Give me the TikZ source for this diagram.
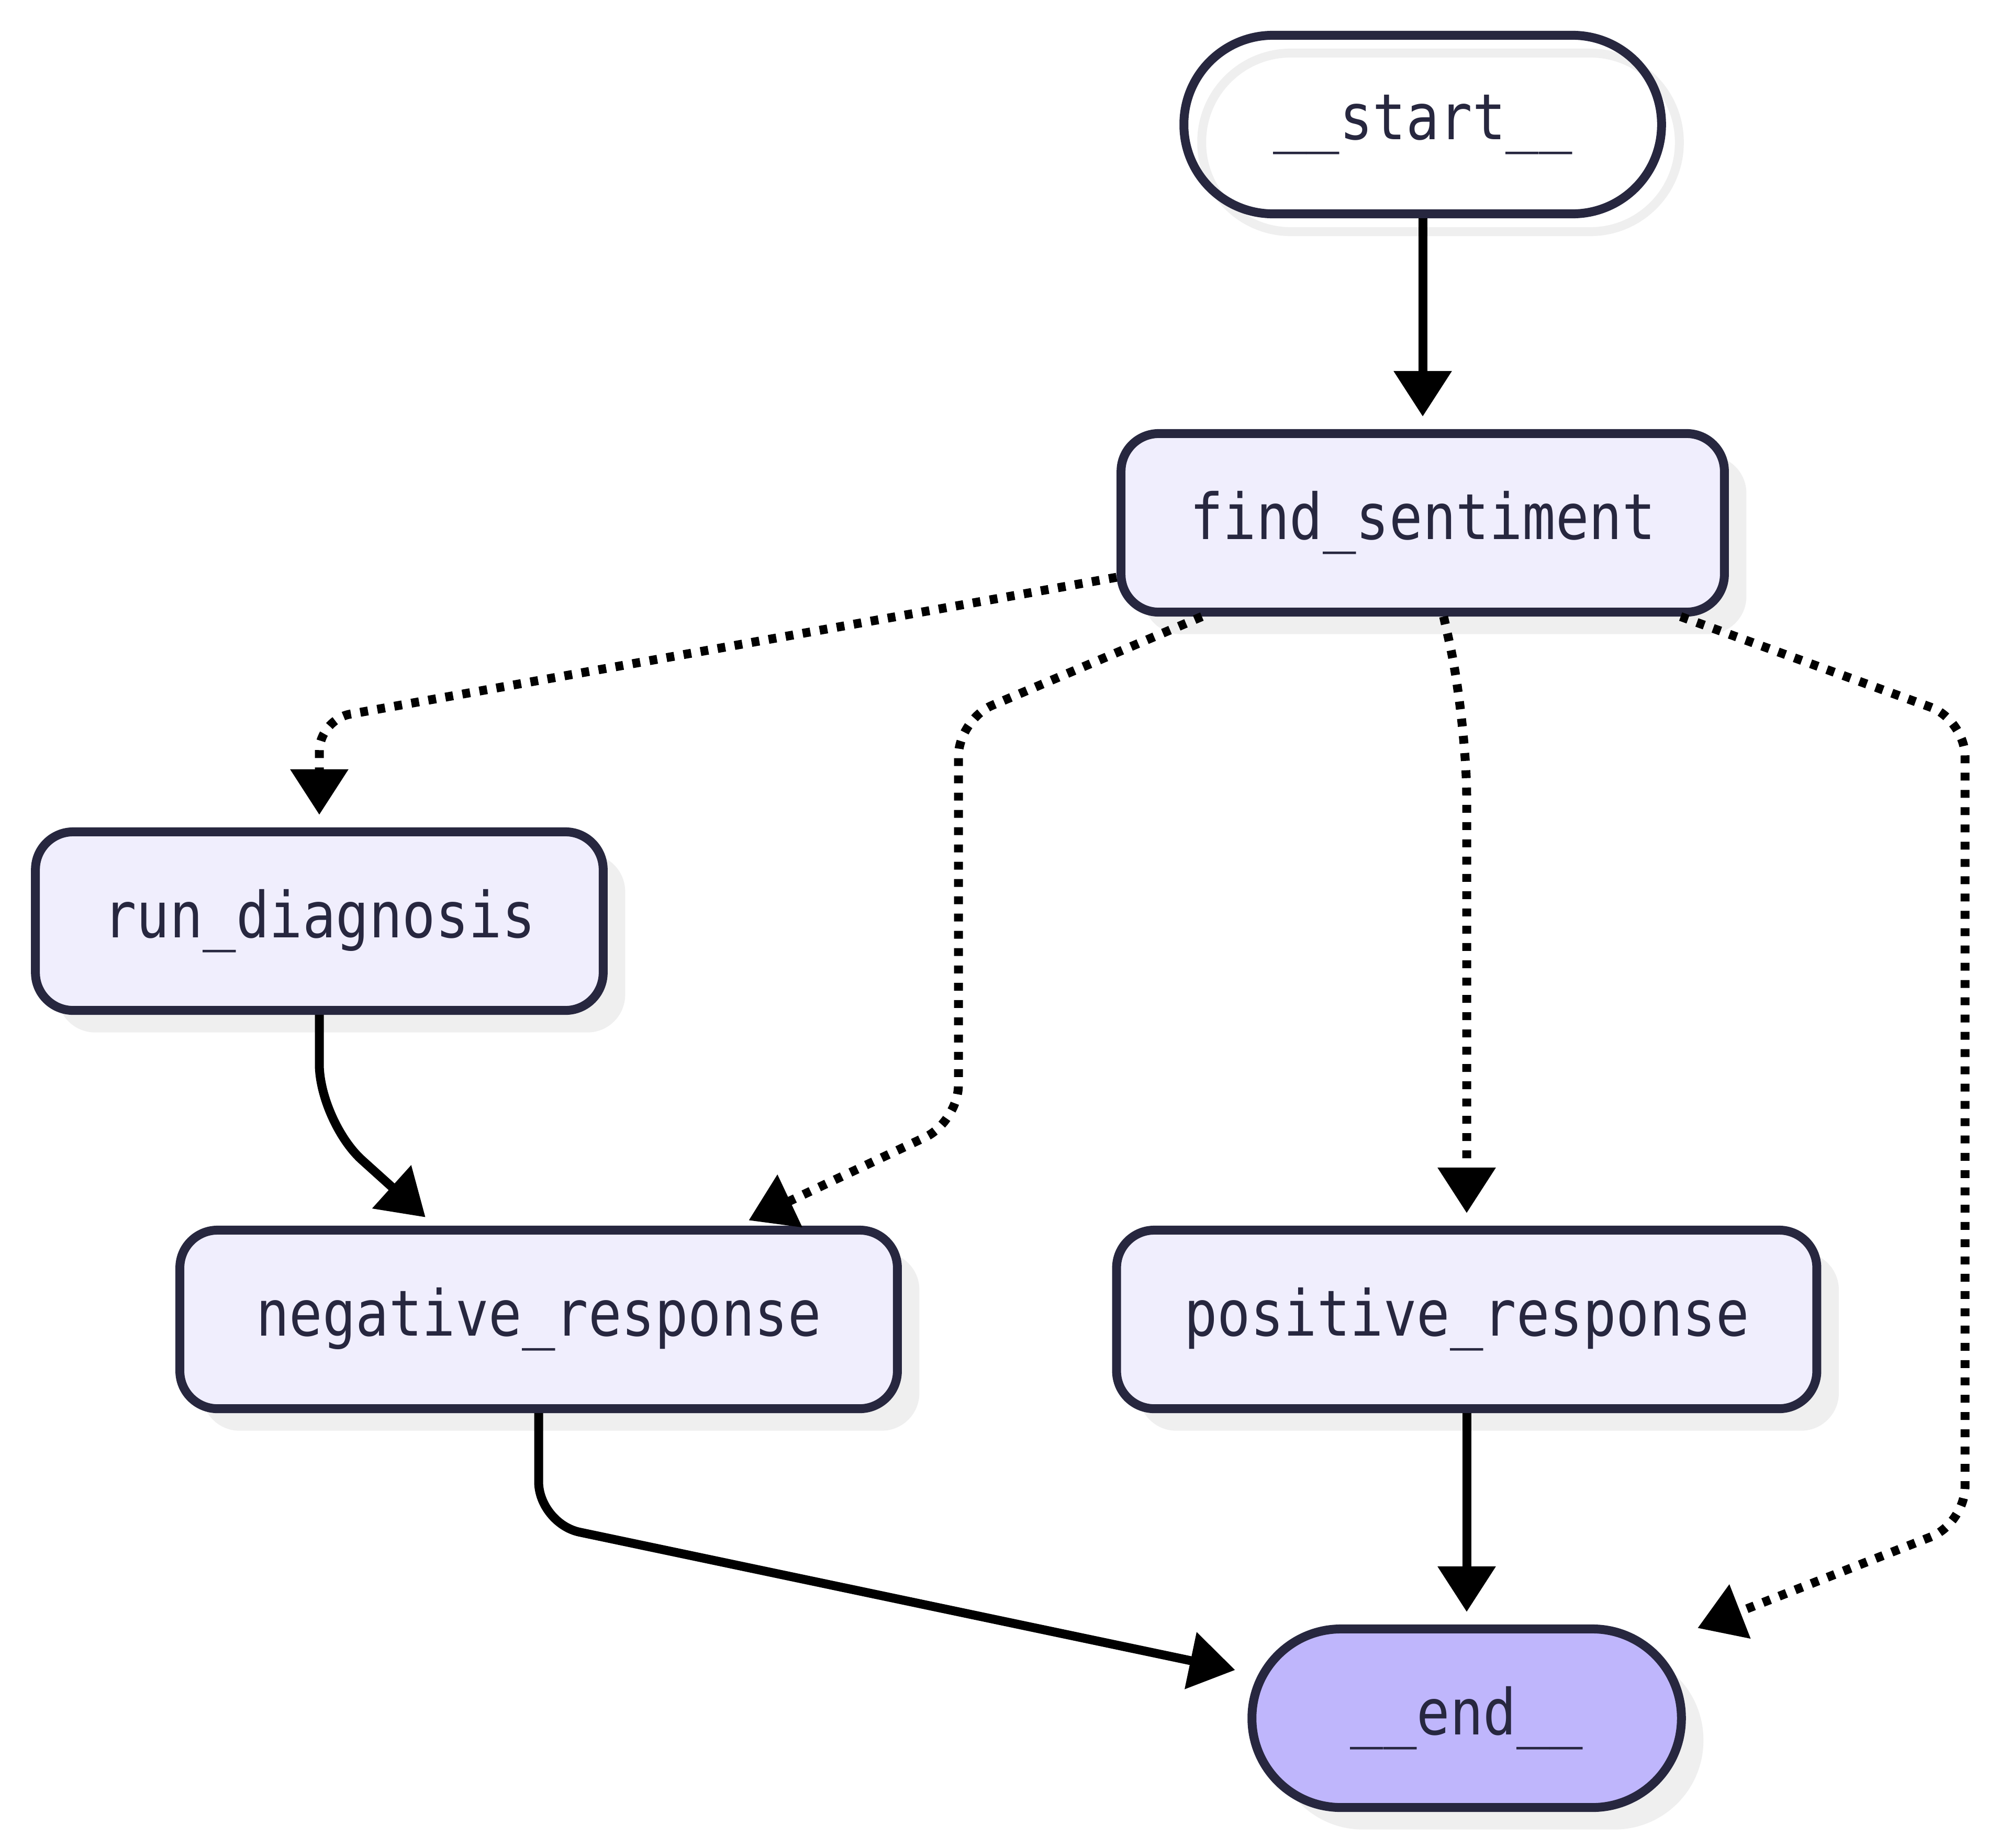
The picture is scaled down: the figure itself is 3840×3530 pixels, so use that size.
\documentclass[tikz,border=0pt]{standalone}
\usepackage{fontspec}
\newfontfamily\nodefont{DejaVu Sans Mono}
\usetikzlibrary{arrows.meta,shadows,backgrounds,calc}
\definecolor{nodefill}{HTML}{F0EEFD}
\definecolor{endfill}{HTML}{BFB6FC}
\definecolor{bordercol}{HTML}{27273F}
\definecolor{shadowcol}{HTML}{EFEFEF}
\newcommand{\nlabel}[1]{\scalebox{1}[1.15]{#1}}
\tikzset{
  nodebase/.style={draw=bordercol, line width=0.17cm, rounded corners=0.72cm,
    minimum height=3.41cm, inner sep=0pt, text=bordercol,
    font=\nodefont\fontsize{30pt}{36pt}\selectfont},
  box/.style={nodebase, fill=nodefill,
    drop shadow={shadow xshift=0.42cm, shadow yshift=-0.42cm, fill=shadowcol, opacity=1}},
  pill/.style={rounded corners=1.70cm},
  solidedge/.style={draw=black, line width=0.17cm,
    -{Triangle[length=0.87cm,width=1.07cm]}, shorten >=0.24cm},
  dotedge/.style={solidedge, dash pattern=on 0.15cm off 0.18cm},
}
\begin{document}
\begin{tikzpicture}[x=0.01cm, y=-0.01cm]
\useasboundingbox (0,0) rectangle (3840,3530);
% nodes
\node[nodebase, pill, fill=none, minimum width=9.12cm] (nstart) at (2718,238) {\nlabel{\_\_start\_\_}};
\node[box, minimum width=11.52cm] (nfind) at (2718,999) {\nlabel{find\_sentiment}};
\node[box, minimum width=10.84cm] (nrun) at (610,1760) {\nlabel{run\_diagnosis}};
\node[box, minimum width=13.70cm] (nneg) at (1029,2521) {\nlabel{negative\_response}};
\node[box, minimum width=13.37cm] (npos) at (2802,2521) {\nlabel{positive\_response}};
\node[box, pill, fill=endfill, minimum width=8.20cm] (nend) at (2802,3283) {\nlabel{\_\_end\_\_}};
% background and the ring shadow of the start node
\begin{pgfonlayer}{background}
  \fill[white] (0,0) rectangle (3840,3530);
  \draw[shadowcol, line width=0.17cm, rounded corners=1.70cm]
    ($(nstart.north west)+(42.5,42.5)$) rectangle ($(nstart.south east)+(25.5,25.5)$);
\end{pgfonlayer}
% bend points
\coordinate (c2) at (610,1375);
\coordinate (c3a) at (1831,1375);
\coordinate (c3b) at (1831,2143);
\coordinate (c4) at (2802,1375);
\coordinate (c5a) at (3754,1375);
\coordinate (c5b) at (3754,2911);
\coordinate (c7) at (610,2143);
\coordinate (c8) at (1029,2911);
% edges
\draw[solidedge] (nstart) -- (nfind);
\draw[dotedge, rounded corners=0.6cm] (nfind) -- (c2) -- (nrun);
\draw[dotedge, rounded corners=0.7cm] (nfind) -- (c3a) -- (c3b) -- (nneg);
\draw[dotedge, rounded corners=1.5cm] (nfind) -- (c4) -- (npos);
\draw[dotedge, rounded corners=0.7cm] (nfind) -- (c5a) -- (c5b) -- (nend);
\draw[solidedge, rounded corners=1.1cm] (nrun) -- (c7) -- (nneg);
\draw[solidedge] (npos) -- (nend);
\draw[solidedge, rounded corners=0.8cm] (nneg) -- (c8) -- (nend);
\end{tikzpicture}
\end{document}
